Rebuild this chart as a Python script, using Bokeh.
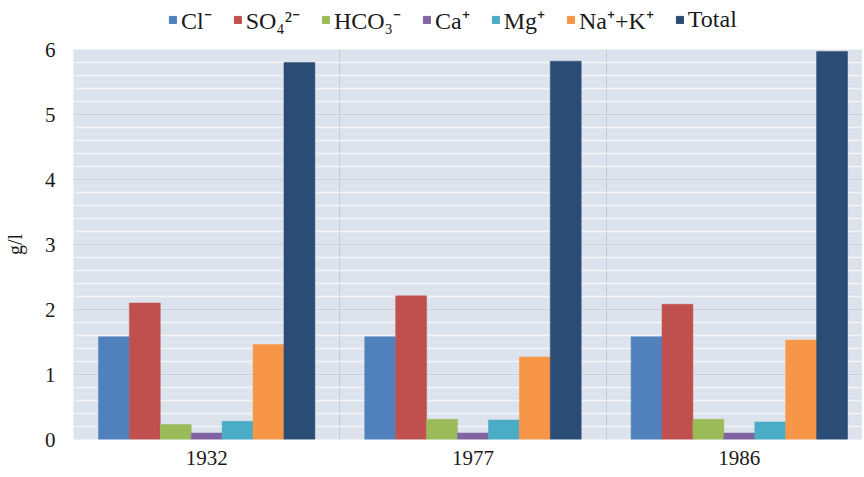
from bokeh.plotting import figure
from bokeh.layouts import column
from bokeh.models import ColumnDataSource, Range1d, FixedTicker, Legend, LegendItem
from bokeh.transform import dodge
from bokeh.embed import file_html
from bokeh.resources import INLINE

# ---- data ----
years = ["1932", "1977", "1986"]
Cl = [1.58, 1.58, 1.58]
SO4 = [2.10, 2.21, 2.08]
HCO3 = [0.23, 0.31, 0.31]
Ca = [0.10, 0.10, 0.10]
Mg = [0.28, 0.30, 0.27]
NaK = [1.46, 1.27, 1.53]
Total = [5.80, 5.82, 5.97]

series_labels = ["Cl\u207b", "SO\u2084\u00b2\u207b", "HCO\u2083\u207b", "Ca\u207a", "Mg\u207a", "Na\u207a+K\u207a", "Total"]
series_keys = ["Cl", "SO4", "HCO3", "Ca", "Mg", "NaK", "Total"]
colors = ["#4F81BD", "#C0504D", "#9BBB59", "#8064A2", "#4BACC6", "#F79646", "#2B4C74"]

x_pos = [i + 0.5 for i in range(len(years))]
src = ColumnDataSource(dict(x=x_pos, Cl=Cl, SO4=SO4, HCO3=HCO3, Ca=Ca, Mg=Mg, NaK=NaK, Total=Total))

FONT = "Liberation Serif"
W = 862

# ---- main chart ----
p = figure(width=W, height=432, x_range=Range1d(0, (W - 71) / 267), y_range=Range1d(0, 6),
           output_backend="svg", toolbar_location=None,
           min_border_left=63, min_border_right=0, min_border_top=12, min_border_bottom=30)

p.background_fill_color = "#dce3ed"
p.border_fill_color = "white"
p.outline_line_color = None

bw = 31 / 267
for i, (k, c) in enumerate(zip(series_keys, colors)):
    p.vbar(x=dodge("x", (i - 3) * bw), top=k, width=bw, bottom=0,
           source=src, fill_color=c, line_color=c, line_width=0.5)

# axes
p.xaxis.ticker = FixedTicker(ticks=x_pos)
p.xaxis.major_label_overrides = {x: y for x, y in zip(x_pos, years)}
p.xaxis.axis_line_color = None
p.xaxis.major_tick_line_color = None
p.xaxis.minor_tick_line_color = None
p.xaxis.major_label_text_font = FONT
p.xaxis.major_label_text_font_size = "21px"
p.xaxis.major_label_text_color = "#1a1a1a"
p.xaxis.major_label_standoff = 5

p.yaxis.ticker = FixedTicker(ticks=[0, 1, 2, 3, 4, 5, 6],
                             minor_ticks=[i / 5 for i in range(31)])
p.yaxis.axis_line_color = None
p.yaxis.major_tick_line_color = None
p.yaxis.minor_tick_line_color = None
p.yaxis.major_label_text_font = FONT
p.yaxis.major_label_text_font_size = "21px"
p.yaxis.major_label_text_color = "#1a1a1a"
p.yaxis.major_label_standoff = 12
p.yaxis.axis_label = "g/l"
p.yaxis.axis_label_text_font = FONT
p.yaxis.axis_label_text_font_size = "20px"
p.yaxis.axis_label_text_font_style = "normal"
p.yaxis.axis_label_text_color = "#1a1a1a"
p.yaxis.axis_label_standoff = 16

# grids
p.ygrid.grid_line_color = "#c6cdd7"
p.ygrid.grid_line_width = 1
p.ygrid.minor_grid_line_color = "#f3f5f8"
p.ygrid.minor_grid_line_width = 1.5
p.xgrid.ticker = FixedTicker(ticks=[0, 1, 2, 3])
p.xgrid.grid_line_color = "#c4c9d0"
p.xgrid.grid_line_width = 1

# ---- legend strip (its bars fall outside its visible y-range) ----
lg = figure(width=W, height=37, x_range=Range1d(0, 3), y_range=Range1d(100, 101),
            x_axis_type=None, y_axis_type=None, output_backend="svg", toolbar_location=None,
            min_border=0)
lg.outline_line_color = None
lg.grid.visible = False
items = []
for k, c, lab in zip(series_keys, colors, series_labels):
    r = lg.vbar(x="x", top=k, width=bw, source=src, fill_color=c, line_color=c)
    items.append(LegendItem(label=lab, renderers=[r]))
legend = Legend(items=items, orientation="horizontal", location=(95, 1),
                padding=0, margin=0, spacing=21, label_standoff=4,
                glyph_width=9, glyph_height=9,
                label_text_font=FONT, label_text_font_size="24px", label_text_color="#1a1a1a",
                border_line_color=None, background_fill_alpha=0)
lg.add_layout(legend)

layout = column(lg, p, spacing=0)
open("out.html", "w").write(file_html(layout, INLINE))
